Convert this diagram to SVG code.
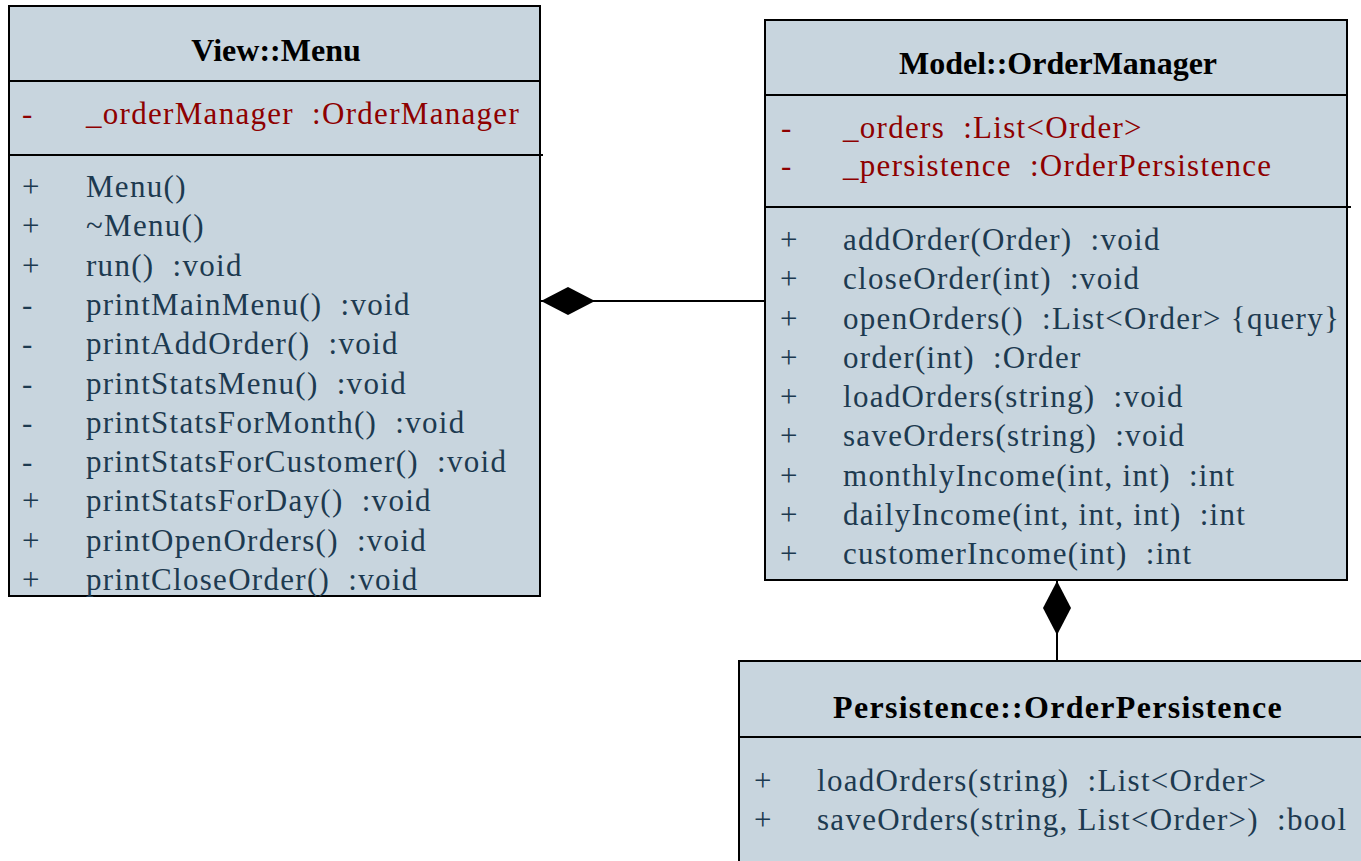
<svg xmlns="http://www.w3.org/2000/svg" width="1361" height="861" viewBox="0 0 1361 861" xml:space="preserve">
<defs>
<style>
.box{fill:#c8d5de;stroke:#000;stroke-width:2}
.sep{stroke:#000;stroke-width:2;fill:none}
.title{font-family:"Liberation Serif","Times New Roman",serif;font-weight:bold;font-size:32px;fill:#000;text-anchor:middle}
.m{font-family:"Liberation Serif","Times New Roman",serif;font-size:31px;letter-spacing:1.3px;fill:#1d3a50;white-space:pre}
.a{font-family:"Liberation Serif","Times New Roman",serif;font-size:31px;letter-spacing:1.3px;fill:#8e0000;white-space:pre}
.conn{stroke:#000;stroke-width:2;fill:none}
</style>
<marker id="diamond" markerUnits="userSpaceOnUse" markerWidth="56" markerHeight="30" viewBox="0 -15 56 30" refX="0" refY="0" orient="auto">
<path d="M0,0 L27,-14 L54,0 L27,14 Z" fill="#000"/>
</marker>
</defs>
<rect width="1361" height="861" fill="#fff"/>
<g id="menu">
<rect class="box" x="9" y="6" width="531" height="590"/>
<line class="sep" x1="9" y1="81" x2="540" y2="81"/>
<line class="sep" x1="9" y1="155" x2="543" y2="155"/>
<text class="title" x="276" y="61">View::Menu</text>
<text class="a" x="22" y="124">-</text><text class="a" x="86" y="124">_orderManager  :OrderManager</text>
<text class="m" x="22" y="197">+</text><text class="m" x="86" y="197">Menu()</text>
<text class="m" x="22" y="236">+</text><text class="m" x="86" y="236">~Menu()</text>
<text class="m" x="22" y="276">+</text><text class="m" x="86" y="276">run()  :void</text>
<text class="m" x="22" y="315">-</text><text class="m" x="86" y="315">printMainMenu()  :void</text>
<text class="m" x="22" y="354">-</text><text class="m" x="86" y="354">printAddOrder()  :void</text>
<text class="m" x="22" y="394">-</text><text class="m" x="86" y="394">printStatsMenu()  :void</text>
<text class="m" x="22" y="433">-</text><text class="m" x="86" y="433">printStatsForMonth()  :void</text>
<text class="m" x="22" y="472">-</text><text class="m" x="86" y="472">printStatsForCustomer()  :void</text>
<text class="m" x="22" y="511">+</text><text class="m" x="86" y="511">printStatsForDay()  :void</text>
<text class="m" x="22" y="551">+</text><text class="m" x="86" y="551">printOpenOrders()  :void</text>
<text class="m" x="22" y="590">+</text><text class="m" x="86" y="590">printCloseOrder()  :void</text>
</g>
<g id="ordermanager">
<rect class="box" x="765" y="20" width="582" height="560"/>
<line class="sep" x1="765" y1="95" x2="1347" y2="95"/>
<line class="sep" x1="765" y1="207" x2="1351" y2="207"/>
<text class="title" x="1058" y="74">Model::OrderManager</text>
<text class="a" x="781" y="138">-</text><text class="a" x="843" y="138">_orders  :List&lt;Order&gt;</text>
<text class="a" x="781" y="176">-</text><text class="a" x="843" y="176">_persistence  :OrderPersistence</text>
<text class="m" x="780" y="250">+</text><text class="m" x="843" y="250">addOrder(Order)  :void</text>
<text class="m" x="780" y="289">+</text><text class="m" x="843" y="289">closeOrder(int)  :void</text>
<text class="m" x="780" y="329">+</text><text class="m" x="843" y="329">openOrders()  :List&lt;Order&gt; {query}</text>
<text class="m" x="780" y="368">+</text><text class="m" x="843" y="368">order(int)  :Order</text>
<text class="m" x="780" y="407">+</text><text class="m" x="843" y="407">loadOrders(string)  :void</text>
<text class="m" x="780" y="446">+</text><text class="m" x="843" y="446">saveOrders(string)  :void</text>
<text class="m" x="780" y="486">+</text><text class="m" x="843" y="486">monthlyIncome(int, int)  :int</text>
<text class="m" x="780" y="525">+</text><text class="m" x="843" y="525">dailyIncome(int, int, int)  :int</text>
<text class="m" x="780" y="564">+</text><text class="m" x="843" y="564">customerIncome(int)  :int</text>
</g>
<g id="orderpersistence">
<rect class="box" x="739" y="661" width="630" height="210"/>
<line class="sep" x1="739" y1="737" x2="1361" y2="737"/>
<text class="title" x="1058" y="718" style="letter-spacing:1.3px">Persistence::OrderPersistence</text>
<text class="m" x="754" y="791">+</text><text class="m" x="817" y="791">loadOrders(string)  :List&lt;Order&gt;</text>
<text class="m" x="754" y="830">+</text><text class="m" x="817" y="830">saveOrders(string, List&lt;Order&gt;)  :bool</text>
</g>
<g id="connectors">
<path class="conn" d="M541,301 L765,301" marker-start="url(#diamond)"/>
<path class="conn" d="M1057,581 L1057,661" marker-start="url(#diamond)"/>
</g>
</svg>
